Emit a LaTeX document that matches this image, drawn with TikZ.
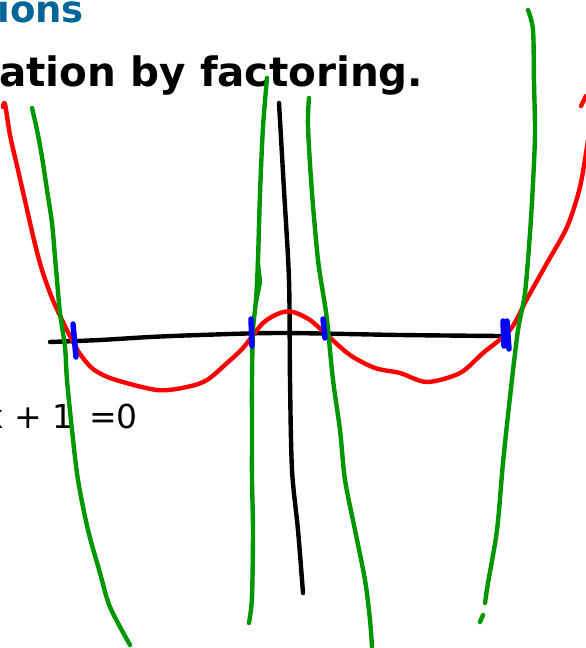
\documentclass[tikz,border=0pt]{standalone}
\usepackage{fontspec}
\setmainfont{DejaVu Sans}
\usepackage{xcolor}
\definecolor{headblue}{RGB}{0,102,153}
\definecolor{penred}{RGB}{255,0,0}
\definecolor{pengreen}{RGB}{0,150,0}
\definecolor{penblue}{RGB}{0,0,255}

\begin{document}
\begin{tikzpicture}[x=1pt,y=-1pt,
  pen/.style={line width=4.4pt,line cap=round,line join=round},
  tick/.style={pen,penblue,line width=5.5pt}]
\useasboundingbox (0,0) rectangle (586,648);
\clip (0,0) rectangle (586,648);
% heading and equation
\node[anchor=base east,inner sep=0pt,text=headblue,font=\bfseries\fontsize{37}{40}\selectfont] (head) at (84,22) {ions};
\node[anchor=base west,inner sep=0pt,font=\bfseries\fontsize{40.5}{44}\selectfont] (task) at (-1,86) {ation by factoring.};
\node[anchor=base east,inner sep=0pt,font=\fontsize{33}{38}\selectfont] (eqn) at (138,428) {x + 1 \,=0};
% axes
\draw[pen,black] plot[smooth] coordinates {(50,342) (100,340) (150,337) (200,335) (280,333) (400,335) (500,336)};
\draw[pen,black] plot[smooth] coordinates {(279,103) (284,190) (289,280) (290,380) (292,470) (298,530) (303,593)};
% red curve
\draw[pen,penred] plot[smooth] coordinates {(3,107) (5,104) (10,135) (18,170) (26,205) (34,240) (42,270) (52,298) (62,320) (72,340) (80,354) (93,369) (113,379) (157,390) (187,387) (207,380) (227,363) (243,348) (263,323) (280,313) (293,312) (310,320) (327,335) (350,355) (375,368) (400,373) (427,382) (460,373) (483,353) (510,330) (528,297) (547,263) (567,227) (580,187) (588,140)};
\draw[pen,penred] (581,106) -- (586,96);
% green curves
\draw[pen,pengreen] plot[smooth] coordinates {(32,108) (37,130) (42,157) (47,190) (52,223) (55,257) (57,280) (60,313) (65,347) (67,380) (72,430) (78,480) (88,530) (100,573) (110,607) (130,645)};
\draw[pen,pengreen] plot[smooth] coordinates {(267,78) (263,127) (260,193) (258,260) (256,300) (253,330) (252,380) (252,430) (252,480) (253,530) (252,597) (249,623)};
\draw[pen,pengreen] (258,264) -- (260,282) -- (256,302);
\draw[pen,pengreen] plot[smooth] coordinates {(309,98) (308,127) (312,193) (318,260) (323,293) (327,320) (333,380) (340,430) (345,480) (355,530) (365,580) (370,620) (372,647)};
\draw[pen,pengreen] plot[smooth] coordinates {(528,10) (533,30) (534,83) (535,133) (533,183) (530,233) (525,293) (518,330) (510,397) (503,463) (497,530) (488,583) (485,603)};
\draw[pen,pengreen] (483,615) -- (480,622);
% roots
\draw[tick] (73,324) -- (76,357);
\draw[tick] (251,319) -- (252,346);
\draw[tick] (323,319) -- (325,338);
\draw[tick] (503,321) -- (504,346);
\draw[tick] (507,321) -- (509,349);
\end{tikzpicture}
\end{document}
